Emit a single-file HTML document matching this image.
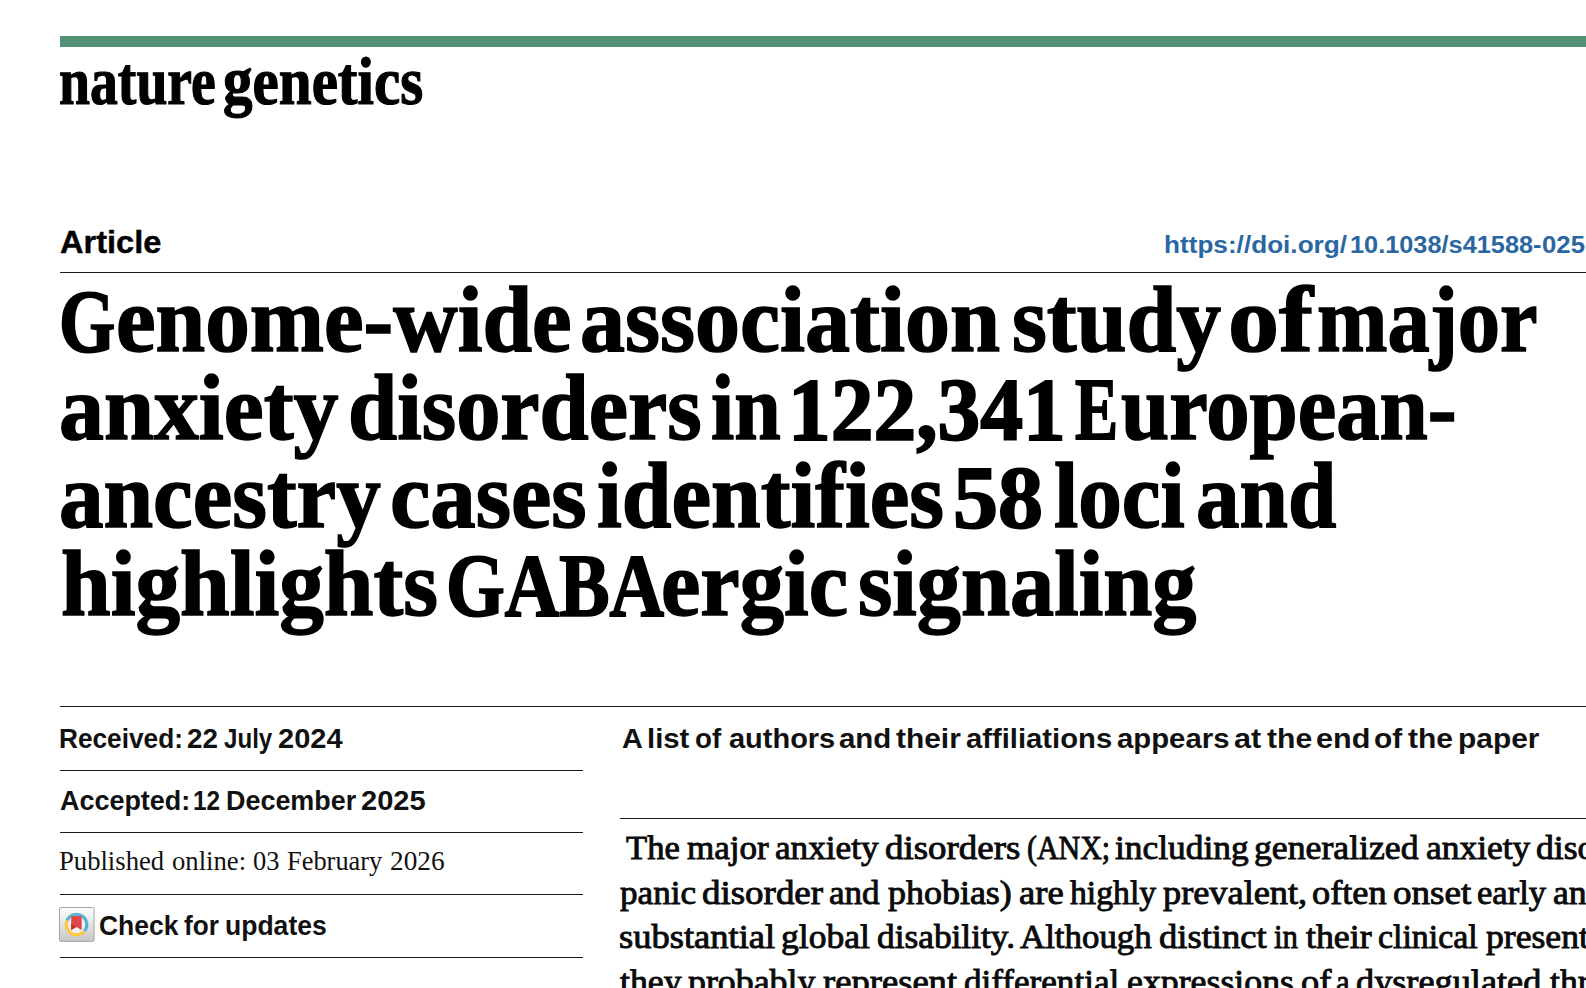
<!DOCTYPE html>
<html lang="en"><head><meta charset="utf-8"><title>Genome-wide association study of major anxiety disorders</title>
<style>
html,body{margin:0;padding:0;background:#fff;overflow:hidden;}
body{width:1586px;height:988px;position:relative;overflow:hidden;}
.t{position:absolute;white-space:nowrap;transform-origin:0 0;display:block;}
.logo{font-family:"Liberation Serif", serif;font-weight:bold;font-size:67px;line-height:80.4px;color:#000;-webkit-text-stroke:1.2px #000;}
.title{font-family:"Liberation Serif", serif;font-weight:bold;font-size:94px;line-height:112.8px;color:#000;-webkit-text-stroke:1.6px #000;}
.titlecap{font-family:"Liberation Serif", serif;font-weight:bold;font-size:89.5px;line-height:107.4px;color:#000;-webkit-text-stroke:2.0px #000;}
.article{font-family:"Liberation Sans", sans-serif;font-weight:bold;font-size:32px;line-height:38.4px;color:#000;-webkit-text-stroke:0.4px #000;}
.doi{font-family:"Liberation Sans", sans-serif;font-weight:bold;font-size:23.5px;line-height:28.2px;color:#2a67a2;}
.meta{font-family:"Liberation Sans", sans-serif;font-weight:bold;font-size:27.5px;line-height:33.0px;color:#111;}
.pub{font-family:"Liberation Serif", serif;font-weight:normal;font-size:27.5px;line-height:33.0px;color:#111;}
.authors{font-family:"Liberation Sans", sans-serif;font-weight:bold;font-size:28.5px;line-height:34.2px;color:#111;}
.body{font-family:"Liberation Serif", serif;font-weight:normal;font-size:34px;line-height:40.8px;color:#0a0a0a;-webkit-text-stroke:0.9px #0a0a0a;}
.bar{position:absolute;left:60px;top:36px;width:1526px;height:11px;background:#529175;}
.r{position:absolute;height:1px;background:#1a1a1a;}
</style></head><body>
<div class="bar"></div>
<div class="r" style="left:60px;top:272px;width:1526px"></div>
<div class="r" style="left:60px;top:706px;width:1526px"></div>
<div class="r" style="left:60px;top:770px;width:523px"></div>
<div class="r" style="left:60px;top:832px;width:523px"></div>
<div class="r" style="left:60px;top:894px;width:523px"></div>
<div class="r" style="left:60px;top:957px;width:523px"></div>
<div class="r" style="left:620px;top:818px;width:966px"></div>
<svg class="icon" style="position:absolute;left:59.2px;top:907.1px" width="35.6" height="34.9" viewBox="0 0 35.6 34.9">
<defs><linearGradient id="g" x1="0" y1="0" x2="0" y2="1"><stop offset="0" stop-color="#fdfdfd"/><stop offset="0.35" stop-color="#ececec"/><stop offset="1" stop-color="#c6c6c6"/></linearGradient></defs>
<rect x="0.5" y="0.5" width="34.6" height="33.9" rx="1.5" fill="url(#g)" stroke="#a6a6a6" stroke-width="1"/>
<circle cx="17.46" cy="17.58" r="8.9" fill="#f1f1f1"/>
<path d="M8.05 13.39A10.3 10.3 0 1 1 25.35 24.20" fill="none" stroke="#5bb4cf" stroke-width="3.2"/>
<path d="M25.35 24.20A10.3 10.3 0 0 1 8.05 13.39" fill="none" stroke="#fdc942" stroke-width="3.2"/>
<path d="M12.2 9.9Q12.2 9.1 13 9.1H21.9Q22.7 9.1 22.7 9.9V23L17.46 19.95L12.2 23Z" fill="#df4549"/>
<path d="M12.2 16.7L17.3 19.9L12.2 23Z" fill="#c3321f"/>
</svg>
<span class="t logo" style="left:59.33px;top:41.10px;transform:scaleX(0.8314)">nature</span>
<span class="t logo" style="left:223.11px;top:41.10px;transform:scaleX(0.8820)">genetics</span>
<span class="t article" style="left:59.69px;top:222.91px;transform:scaleX(1.0173)">Article</span>
<span class="t doi" style="left:1164.22px;top:230.80px;transform:scaleX(1.1129)">https://doi.org/</span><span class="t doi" style="left:1350.29px;top:230.80px;transform:scaleX(1.0776)">10.1038/s41588-</span><span class="t doi" style="left:1542.31px;top:230.80px;transform:scaleX(1.0952)">025-02485-8</span>
<span class="t titlecap" style="left:58.62px;top:266.70px;transform:scaleX(0.8066)">G</span><span class="t title" style="left:115.87px;top:262.90px;transform:scaleX(0.9486)">enome-wide</span>
<span class="t title" style="left:579.95px;top:262.90px;transform:scaleX(0.9572)">association</span>
<span class="t title" style="left:1011.66px;top:262.90px;transform:scaleX(0.9532)">study</span>
<span class="t title" style="left:1228.28px;top:262.90px;transform:scaleX(1.0862)">of</span>
<span class="t title" style="left:1317.40px;top:262.90px;transform:scaleX(0.8993)">major</span>
<span class="t title" style="left:58.96px;top:350.80px;transform:scaleX(0.9557)">anxiety</span>
<span class="t title" style="left:347.99px;top:350.80px;transform:scaleX(0.9407)">disorders</span>
<span class="t title" style="left:711.41px;top:350.80px;transform:scaleX(0.8886)">in</span>
<span class="t titlecap" style="left:788.28px;top:354.60px;transform:scaleX(0.9550)">122,341</span>
<span class="t titlecap" style="left:1075.41px;top:354.60px;transform:scaleX(0.7216)">E</span><span class="t title" style="left:1120.74px;top:350.80px;transform:scaleX(0.9224)">uropean-</span>
<span class="t title" style="left:58.97px;top:438.90px;transform:scaleX(0.9480)">ancestry</span>
<span class="t title" style="left:389.94px;top:438.90px;transform:scaleX(0.9660)">cases</span>
<span class="t title" style="left:596.57px;top:438.90px;transform:scaleX(0.9494)">identifies</span>
<span class="t titlecap" style="left:952.69px;top:442.70px;transform:scaleX(1.0069)">58</span>
<span class="t title" style="left:1054.28px;top:438.90px;transform:scaleX(0.9276)">loci</span>
<span class="t title" style="left:1196.02px;top:438.90px;transform:scaleX(0.9260)">and</span>
<span class="t title" style="left:60.87px;top:526.90px;transform:scaleX(0.9493)">highlights</span>
<span class="t titlecap" style="left:445.71px;top:530.70px;transform:scaleX(0.8431)">GABA</span><span class="t title" style="left:661.48px;top:526.90px;transform:scaleX(0.9437)">ergic</span>
<span class="t title" style="left:857.87px;top:526.90px;transform:scaleX(0.9387)">signaling</span>
<span class="t meta" style="left:59.36px;top:721.91px;transform:scaleX(0.9537)">Received:</span>
<span class="t meta" style="left:187.23px;top:721.91px;transform:scaleX(1.0123)">22</span>
<span class="t meta" style="left:224.20px;top:721.91px;transform:scaleX(0.8768)">July</span>
<span class="t meta" style="left:278.39px;top:721.91px;transform:scaleX(1.0547)">2024</span>
<span class="t meta" style="left:59.68px;top:783.71px;transform:scaleX(0.9798)">Accepted:</span>
<span class="t meta" style="left:193.48px;top:783.71px;transform:scaleX(0.8870)">12</span>
<span class="t meta" style="left:225.92px;top:783.71px;transform:scaleX(0.9788)">December</span>
<span class="t meta" style="left:361.09px;top:783.71px;transform:scaleX(1.0565)">2025</span>
<span class="t pub" style="left:59.48px;top:843.80px;transform:scaleX(0.9690)">Published</span>
<span class="t pub" style="left:172.17px;top:843.80px;transform:scaleX(0.9706)">online:</span>
<span class="t pub" style="left:252.97px;top:843.80px;transform:scaleX(0.9619)">03</span>
<span class="t pub" style="left:287.49px;top:843.80px;transform:scaleX(0.9601)">February</span>
<span class="t pub" style="left:390.25px;top:843.80px;transform:scaleX(0.9923)">2026</span>
<span class="t meta" style="left:98.77px;top:909.01px;transform:scaleX(0.9615)">Check</span>
<span class="t meta" style="left:183.69px;top:909.01px;transform:scaleX(0.9515)">for</span>
<span class="t meta" style="left:224.56px;top:909.01px;transform:scaleX(0.9648)">updates</span>
<span class="t authors" style="left:621.65px;top:721.00px;transform:scaleX(1.0105)">A</span>
<span class="t authors" style="left:646.87px;top:721.00px;transform:scaleX(1.0291)">list</span>
<span class="t authors" style="left:694.93px;top:721.00px;transform:scaleX(0.9728)">of</span>
<span class="t authors" style="left:728.55px;top:721.00px;transform:scaleX(1.0164)">authors</span>
<span class="t authors" style="left:839.14px;top:721.00px;transform:scaleX(1.0331)">and</span>
<span class="t authors" style="left:896.30px;top:721.00px;transform:scaleX(1.0496)">their</span>
<span class="t authors" style="left:966.34px;top:721.00px;transform:scaleX(1.0255)">affiliations</span>
<span class="t authors" style="left:1117.44px;top:721.00px;transform:scaleX(1.0287)">appears</span>
<span class="t authors" style="left:1234.32px;top:721.00px;transform:scaleX(1.0745)">at</span>
<span class="t authors" style="left:1266.50px;top:721.00px;transform:scaleX(1.0561)">the</span>
<span class="t authors" style="left:1315.95px;top:721.00px;transform:scaleX(1.0718)">end</span>
<span class="t authors" style="left:1373.97px;top:721.00px;transform:scaleX(1.0488)">of</span>
<span class="t authors" style="left:1408.20px;top:721.00px;transform:scaleX(1.0538)">the</span>
<span class="t authors" style="left:1457.83px;top:721.00px;transform:scaleX(1.0487)">paper</span>
<span class="t body" style="left:625.72px;top:828.35px;transform:scaleX(1.0175)">The</span>
<span class="t body" style="left:686.62px;top:828.35px;transform:scaleX(1.0313)">major</span>
<span class="t body" style="left:774.97px;top:828.35px;transform:scaleX(1.0349)">anxiety</span>
<span class="t body" style="left:884.64px;top:828.35px;transform:scaleX(1.0853)">disorders</span>
<span class="t body" style="left:1026.66px;top:828.35px;transform:scaleX(0.8809)">(ANX;</span>
<span class="t body" style="left:1115.22px;top:828.35px;transform:scaleX(1.0400)">including</span>
<span class="t body" style="left:1253.66px;top:828.35px;transform:scaleX(1.0504)">generalized</span>
<span class="t body" style="left:1425.86px;top:828.35px;transform:scaleX(1.0419)">anxiety</span>
<span class="t body" style="left:1535.86px;top:828.35px;transform:scaleX(1.0477)">disorder,</span>
<span class="t body" style="left:620.42px;top:872.95px;transform:scaleX(1.0335)">panic</span>
<span class="t body" style="left:702.43px;top:872.95px;transform:scaleX(1.0866)">disorder</span>
<span class="t body" style="left:829.47px;top:872.95px;transform:scaleX(1.0321)">and</span>
<span class="t body" style="left:888.41px;top:872.95px;transform:scaleX(1.0574)">phobias)</span>
<span class="t body" style="left:1018.94px;top:872.95px;transform:scaleX(1.0765)">are</span>
<span class="t body" style="left:1069.85px;top:872.95px;transform:scaleX(0.9921)">highly</span>
<span class="t body" style="left:1163.21px;top:872.95px;transform:scaleX(1.0681)">prevalent,</span>
<span class="t body" style="left:1312.15px;top:872.95px;transform:scaleX(1.0689)">often</span>
<span class="t body" style="left:1393.03px;top:872.95px;transform:scaleX(1.0903)">onset</span>
<span class="t body" style="left:1477.18px;top:872.95px;transform:scaleX(1.0164)">early</span>
<span class="t body" style="left:1552.86px;top:872.95px;transform:scaleX(1.0477)">and</span>
<span class="t body" style="left:618.84px;top:917.45px;transform:scaleX(1.0735)">substantial</span>
<span class="t body" style="left:780.66px;top:917.45px;transform:scaleX(1.0450)">global</span>
<span class="t body" style="left:876.76px;top:917.45px;transform:scaleX(1.0386)">disability.</span>
<span class="t body" style="left:1020.06px;top:917.45px;transform:scaleX(1.0252)">Although</span>
<span class="t body" style="left:1159.24px;top:917.45px;transform:scaleX(1.0743)">distinct</span>
<span class="t body" style="left:1273.63px;top:917.45px;transform:scaleX(0.9062)">in</span>
<span class="t body" style="left:1306.07px;top:917.45px;transform:scaleX(1.0533)">their</span>
<span class="t body" style="left:1378.19px;top:917.45px;transform:scaleX(0.9952)">clinical</span>
<span class="t body" style="left:1486.21px;top:917.45px;transform:scaleX(1.0477)">presentations,</span>
<span class="t body" style="left:619.97px;top:962.05px;transform:scaleX(1.0515)">they</span>
<span class="t body" style="left:688.21px;top:962.05px;transform:scaleX(1.0534)">probably</span>
<span class="t body" style="left:823.11px;top:962.05px;transform:scaleX(1.0761)">represent</span>
<span class="t body" style="left:964.17px;top:962.05px;transform:scaleX(1.0318)">differential</span>
<span class="t body" style="left:1126.96px;top:962.05px;transform:scaleX(1.0529)">expressions</span>
<span class="t body" style="left:1300.74px;top:962.05px;transform:scaleX(1.0727)">of</span>
<span class="t body" style="left:1336.05px;top:962.05px;transform:scaleX(0.9040)">a</span>
<span class="t body" style="left:1356.35px;top:962.05px;transform:scaleX(1.0665)">dysregulated</span>
<span class="t body" style="left:1549.77px;top:962.05px;transform:scaleX(1.0477)">threat-response</span>
</body></html>
